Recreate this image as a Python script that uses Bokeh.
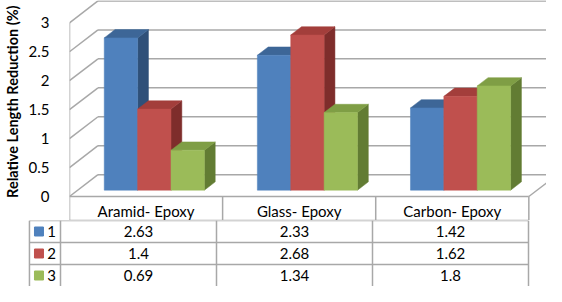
from bokeh.plotting import figure
from bokeh.layouts import column
from bokeh.models import Range1d, FixedTicker
from bokeh.embed import file_html
from bokeh.resources import INLINE
from bokeh.core.properties import value

# ---------------- data ----------------
categories = ["Aramid- Epoxy", "Glass- Epoxy", "Carbon- Epoxy"]
series_names = ["1", "2", "3"]
series_1 = [2.63, 2.33, 1.42]
series_2 = [1.4, 2.68, 1.62]
series_3 = [0.69, 1.34, 1.8]
series_values = [series_1, series_2, series_3]
y_ticks = [0, 0.5, 1, 1.5, 2, 2.5, 3]
y_title = "Relative Length Reduction (%)"

# ---------------- style ----------------
front_colors = ["#4F81BD", "#C0504D", "#9BBB59"]
top_colors = ["#3D6697", "#A33E3B", "#7F9E45"]
side_colors = ["#2F5079", "#7E2D2B", "#627C33"]
grid_color = "#A8A8A8"
FONT = "Lato"
TXT = "15px"

n_cat = len(categories)
n_ser = len(series_values)
PX_X = 156.0               # pixels per category
PX_Y = 57.9                # pixels per value unit
ROW_PX = 22.0              # data-table row height
DX, DY = 0.186, 0.377      # depth of floor (x units, value units)
BAR_W = 0.218
F0, F1 = 0.29, 0.67        # bar depth span (fraction of floor depth)
LEG_X = -0.199             # left edge of the legend column of the table

W = 546
LEFT = 60
HEADER_PX = 24.0
Y1 = 3.385
Y0 = -HEADER_PX / PX_Y      # header row of the data table lives below the floor
TOP_H = int(round((Y1 - Y0) * PX_Y))
TAB_H = int(round(n_ser * ROW_PX))

# ---------------- chart ----------------
p = figure(width=W, height=TOP_H, output_backend="svg", toolbar_location=None,
           x_range=Range1d(0, (W - LEFT) / PX_X), y_range=Range1d(Y0, Y1),
           min_border_left=LEFT, min_border_right=0, min_border_top=0, min_border_bottom=0,
           frame_align=False)
p.outline_line_color = None
p.xgrid.visible = False
p.ygrid.visible = False
p.xaxis.visible = False
p.background_fill_color = "white"
p.border_fill_color = "white"

ya = p.yaxis[0]
ya.ticker = FixedTicker(ticks=y_ticks)
ya.axis_line_color = None
ya.major_tick_line_color = None
ya.minor_tick_line_color = None
ya.major_label_standoff = 14
ya.major_label_text_font = FONT
ya.major_label_text_font_size = TXT
ya.major_label_text_color = "#000000"
# leading no-break spaces lift the centred label onto the value part of the axis
ya.axis_label = "\u00a0" * 5 + y_title
ya.axis_label_text_font = FONT
ya.axis_label_text_font_size = "14.5px"
ya.axis_label_text_font_style = "bold"
ya.axis_label_text_color = "#000000"
ya.axis_label_standoff = 5

# walls / gridlines
gx0, gy0, gx1, gy1 = [], [], [], []
for t in y_ticks:
    gx0.append(0); gy0.append(t); gx1.append(DX); gy1.append(t + DY)
    gx0.append(DX); gy0.append(t + DY); gx1.append(n_cat + DX); gy1.append(t + DY)
p.segment(gx0, gy0, gx1, gy1, line_color=grid_color, line_width=1.5)
# vertical axis edge, floor edges
p.segment([0, 0, n_cat], [0, 0, 0], [0, n_cat, n_cat + DX], [y_ticks[-1], 0, DY],
          line_color=grid_color, line_width=1.5)
# header row of the data table: column lines + bottom line
cols = list(range(n_cat + 1))
p.segment(cols, [0] * len(cols), cols, [Y0] * len(cols), line_color=grid_color, line_width=1.5)
p.segment([LEG_X], [Y0], [n_cat], [Y0], line_color=grid_color, line_width=1.5)
p.text(x=[i + 0.5 for i in range(n_cat)], y=[Y0 * 0.6] * n_cat, text=categories,
       text_align="center", text_baseline="middle", text_font=value(FONT),
       text_font_size=TXT, text_color="#000000")

# bars
ddx = (F1 - F0) * DX
ddy = (F1 - F0) * DY
for j, vals in enumerate(series_values):
    L, R, B, T = [], [], [], []
    for i, v in enumerate(vals):
        xc = i + 0.5 + (j - (n_ser - 1) / 2) * BAR_W + F0 * DX
        L.append(xc - BAR_W / 2); R.append(xc + BAR_W / 2)
        B.append(F0 * DY); T.append(v + F0 * DY)
    top_xs = [[l, r, r + ddx, l + ddx] for l, r in zip(L, R)]
    top_ys = [[t, t, t + ddy, t + ddy] for t in T]
    side_xs = [[r, r, r + ddx, r + ddx] for r in R]
    side_ys = [[b, t, t + ddy, b + ddy] for b, t in zip(B, T)]
    p.patches(side_xs, side_ys, fill_color=side_colors[j], line_color=side_colors[j], line_width=0.5)
    p.patches(top_xs, top_ys, fill_color=top_colors[j], line_color=top_colors[j], line_width=0.5)
    p.quad(left=L, right=R, bottom=B, top=T, fill_color=front_colors[j],
           line_color=front_colors[j], line_width=0.5)

# ---------------- data table rows ----------------
x_start = -LEFT / PX_X
q = figure(width=W, height=TAB_H, output_backend="svg", toolbar_location=None,
           x_range=Range1d(x_start, x_start + W / PX_X), y_range=Range1d(n_ser, 0),
           min_border_left=0, min_border_right=0, min_border_top=0, min_border_bottom=0,
           frame_align=False)
q.outline_line_color = None
q.xgrid.visible = False
q.ygrid.visible = False
q.xaxis.visible = False
q.yaxis.visible = False
q.background_fill_color = "white"
q.border_fill_color = "white"

hx0, hy0, hx1, hy1 = [], [], [], []
for r in range(0, n_ser):
    hx0.append(LEG_X); hy0.append(r); hx1.append(n_cat); hy1.append(r)
for c in range(n_cat + 1):
    hx0.append(c); hy0.append(0); hx1.append(c); hy1.append(n_ser + 0.5)
hx0.append(LEG_X); hy0.append(0); hx1.append(LEG_X); hy1.append(n_ser + 0.5)
q.segment(hx0, hy0, hx1, hy1, line_color=grid_color, line_width=1.5)

tx, ty, tt = [], [], []
for j, vals in enumerate(series_values):
    for i, v in enumerate(vals):
        tx.append(i + 0.5); ty.append(j + 0.52); tt.append(str(v))
q.text(x=tx, y=ty, text=tt, text_align="center", text_baseline="middle",
       text_font=value(FONT), text_font_size=TXT, text_color="#000000")
q.scatter(x=[-0.138] * n_ser, y=[j + 0.5 for j in range(n_ser)], marker="square",
          size=9, fill_color=front_colors, line_color=front_colors)
q.text(x=[-0.085] * n_ser, y=[j + 0.52 for j in range(n_ser)], text=series_names,
       text_align="left", text_baseline="middle", text_font=value(FONT),
       text_font_size=TXT, text_color="#000000")

layout = column(p, q, spacing=0)
open("out.html", "w").write(file_html(layout, INLINE))
